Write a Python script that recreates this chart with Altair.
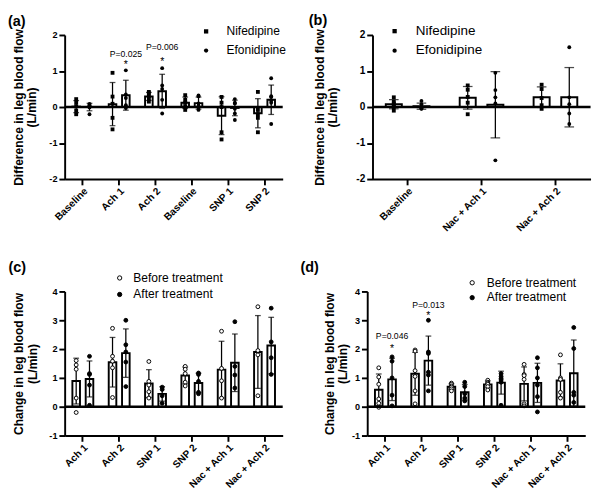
import altair as alt
import pandas as pd

FONT = "Liberation Sans, Arial, Helvetica, sans-serif"

# ---------------- Panel (a) ----------------
A_CATS = ["Baseline", "Ach 1", "Ach 2", "Baseline ", "SNP 1", "SNP 2"]
A_GROUPS = ["Nifedipine", "Efonidipine"]
A_NIF = [
    [0.22, 0.12, 0.02, -0.10, -0.20],
    [0.95, 0.29, 0.09, -0.30, -0.62],
    [0.42, 0.38, 0.30, 0.22, 0.15],
    [0.33, 0.20, 0.12, 0.02, -0.08],
    [0.28, 0.12, 0.00, -0.70, -0.90],
    [0.42, -0.08, -0.20, -0.30, -0.70],
]
A_EFO = [
    [0.09, 0.06, 0.04, 0.02, -0.01, -0.20],
    [1.02, 0.35, 0.25, 0.05, -0.03],
    [1.08, 0.60, 0.50, 0.20, -0.18],
    [0.32, 0.30, 0.10, 0.03, -0.02, -0.08],
    [0.22, 0.12, 0.10, -0.05, -0.18, -0.36],
    [0.80, 0.30, 0.28, 0.18, 0.12, -0.47],
]
A_NOTE_CATS = ["Ach 1", "Ach 2"]
A_NOTE_GRPS = ["Efonidipine", "Efonidipine"]
A_NOTE_P = ["P=0.025", "P=0.006"]
A_NOTE_PY = [1.47, 1.67]
A_NOTE_STARY = [1.24, 1.33]

# ---------------- Panel (b) ----------------
B_CATS = ["Baseline", "Nac + Ach 1", "Nac + Ach 2"]
B_GROUPS = ["Nifedipine", "Efonidipine"]
B_NIF = [
    [0.27, 0.15, 0.10, 0.05, 0.00, -0.10],
    [0.60, 0.48, 0.28, 0.12, -0.20],
    [0.62, 0.50, 0.25, 0.05, -0.05],
]
B_EFO = [
    [0.17, 0.08, 0.00, -0.02, -0.04, -0.05],
    [0.95, 0.47, 0.27, 0.10, -1.48],
    [1.66, 0.27, 0.08, -0.18, -0.47],
]

# ---------------- Panel (c) ----------------
C_CATS = ["Ach 1", "Ach 2", "SNP 1", "SNP 2", "Nac + Ach 1", "Nac + Ach 2"]
C_GROUPS = ["Before treatment", "After treatment"]
C_BEFORE = [
    [1.60, 1.45, 1.30, 0.30, -0.20],
    [2.72, 1.75, 1.58, 1.35, 0.32],
    [1.57, 0.88, 0.75, 0.52, 0.30],
    [1.40, 1.30, 1.15, 0.85, 0.72],
    [2.62, 1.33, 0.90, 0.30],
    [3.47, 1.95, 1.80, 0.38],
]
C_AFTER = [
    [1.75, 1.15, 1.12, 0.75, 0.05],
    [3.00, 2.15, 1.90, 1.55, 0.70],
    [0.68, 0.60, 0.38, 0.12],
    [1.17, 1.12, 0.88, 0.50, 0.45],
    [2.95, 1.40, 1.10, 0.65],
    [3.42, 2.25, 1.70, 1.12],
]

# ---------------- Panel (d) ----------------
D_CATS = ["Ach 1", "Ach 2", "SNP 1", "SNP 2", "Nac + Ach 1", "Nac + Ach 2"]
D_GROUPS = ["Before treatment", "After treatment"]
D_BEFORE = [
    [1.35, 1.03, 0.78, 0.27, 0.12, -0.02],
    [1.97, 1.93, 1.25, 1.05, 0.55, 0.10],
    [0.82, 0.78, 0.72, 0.68, 0.62, 0.55],
    [0.92, 0.85, 0.82, 0.78, 0.70, 0.58],
    [1.47, 1.12, 1.08, 0.95, 0.10, 0.03],
    [1.80, 1.00, 0.95, 0.50, 0.30],
]
D_AFTER = [
    [1.73, 1.58, 1.00, 0.40, 0.03],
    [3.00, 1.85, 1.90, 1.20, 1.10, 0.55],
    [0.85, 0.70, 0.45, 0.30, 0.20],
    [1.15, 1.05, 0.98, 0.93, 0.85, 0.05],
    [1.70, 1.35, 1.00, 0.75, 0.35, -0.18],
    [2.75, 2.02, 0.50, 0.40, 0.15],
]
D_NOTE_CATS = ["Ach 1", "Ach 2"]
D_NOTE_GRPS = ["After treatment", "After treatment"]
D_NOTE_P = ["P=0.046", "P=0.013"]
D_NOTE_PY = [2.44, 3.53]
D_NOTE_STARY = [2.09, 3.25]

W, H = 227, 150


def long_df(cats, groups, series):
    rows = []
    for g, vals in zip(groups, series):
        for c, pts in zip(cats, vals):
            for v in pts:
                rows.append({"cat": c, "grp": g, "v": v})
    return pd.DataFrame(rows)


def panel(letter, cats, groups, series, ydom, yvals, ytitle, tpad, ylab,
          leg, x_pad, bar_pad, cap, mode, toff, tdx, notes=None):
    df = long_df(cats, groups, series)
    base = alt.Chart(df)
    xaxis = alt.Axis(title=None, labelAngle=-45, labelExpr="trim(datum.label)",
                     labelFont=FONT, labelFontWeight="bold", labelFontSize=10.5,
                     labelColor="black", domain=True, ticks=True, domainColor="black",
                     domainWidth=2, tickColor="black", tickWidth=2, tickSize=6,
                     labelPadding=1, grid=False)
    x = alt.X("cat:N", sort=cats,
              scale=alt.Scale(domain=cats, paddingInner=x_pad[0], paddingOuter=x_pad[1]),
              axis=xaxis)
    xo = alt.XOffset("grp:N", sort=groups,
                     scale=alt.Scale(domain=groups, paddingInner=bar_pad[0], paddingOuter=bar_pad[1]))
    ys = alt.Scale(domain=ydom, nice=False)
    yaxis = alt.Axis(values=yvals, title=ytitle, titleFont=FONT, titleFontWeight="bold",
                     titleFontSize=12.5, titleColor="black", titlePadding=tpad, titleLineHeight=14,
                     labelFont=FONT, labelFontWeight="bold", labelFontSize=ylab, labelColor="black",
                     labelExpr="datum.value + ''", domain=True, ticks=True, domainColor="black",
                     domainWidth=2, tickColor="black", tickWidth=2, tickSize=6,
                     labelPadding=2, grid=False)

    def Y(field):
        return alt.Y(field, scale=ys, axis=yaxis)

    agg = base.transform_aggregate(
        m="mean(v)", s="stdev(v)", groupby=["cat", "grp"]
    ).transform_calculate(lo="datum.m - datum.s", hi="datum.m + datum.s")

    bars = agg.mark_bar(fill="white", stroke="black", strokeWidth=2).encode(
        x=x, xOffset=xo, y=Y("m:Q"))
    err = agg.mark_rule(color="black", strokeWidth=1.3).encode(
        x=x, xOffset=xo, y=Y("lo:Q"), y2="hi:Q")
    cap_hi = agg.mark_tick(color="black", thickness=1.3, size=cap, orient="horizontal").encode(
        x=x, xOffset=xo, y=Y("hi:Q"))
    cap_lo = agg.mark_tick(color="black", thickness=1.3, size=cap, orient="horizontal").encode(
        x=x, xOffset=xo, y=Y("lo:Q"))

    lg = alt.Legend(title=None, orient="none", legendX=leg["x"], legendY=leg["y"],
                    labelFont=FONT, labelFontSize=leg["fs"], labelColor="black",
                    symbolSize=leg["ss"], rowPadding=leg["rp"], labelOffset=leg["lo"],
                    padding=0, symbolStrokeColor="black", symbolStrokeWidth=1)
    if mode == "shape":
        pts = base.mark_point(filled=True, color="black", size=16, opacity=1).encode(
            x=x, xOffset=xo, y=Y("v:Q"),
            shape=alt.Shape("grp:N", sort=groups,
                            scale=alt.Scale(domain=groups, range=["square", "circle"]), legend=lg))
    else:
        pts = base.mark_point(shape="circle", size=16, stroke="black", strokeWidth=1, opacity=1).encode(
            x=x, xOffset=xo, y=Y("v:Q"),
            fill=alt.Fill("grp:N", sort=groups,
                          scale=alt.Scale(domain=groups, range=["white", "black"]), legend=lg))

    zero = alt.Chart(pd.DataFrame({"z": [0]})).mark_rule(color="black", strokeWidth=2.5).encode(
        y=Y("z:Q"))

    layers = [bars, err, cap_hi, cap_lo, pts, zero]
    if notes is not None:
        ncats, ngrps, ptxt, py, sy = notes
        ndf = pd.DataFrame({"cat": ncats, "grp": ngrps, "label": ptxt, "y": py})
        sdf = pd.DataFrame({"cat": ncats, "grp": ngrps, "label": ["*"] * len(ncats), "y": sy})
        ptext = alt.Chart(ndf).mark_text(font=FONT, fontSize=9, color="black").encode(
            x=x, xOffset=xo, y=Y("y:Q"), text="label:N")
        stext = alt.Chart(sdf).mark_text(font=FONT, fontSize=11, color="black", dy=3).encode(
            x=x, xOffset=xo, y=Y("y:Q"), text="label:N")
        layers += [ptext, stext]

    return alt.layer(*layers).properties(
        width=W, height=H,
        title=alt.TitleParams(text=letter, anchor="start", frame="bounds", font=FONT,
                              fontSize=15, fontWeight="bold", color="black", offset=toff, dx=tdx))


pa = panel("(a)", A_CATS, A_GROUPS, [A_NIF, A_EFO], [-2, 2], [-2, -1, 0, 1, 2],
           ["Difference in leg blood flow", "(L/min)"], 10.5, 9.5,
           dict(x=141, y=-10, fs=12.5, ss=20, rp=7, lo=15), (0, 0), (0.43, 0.58), 6, "shape", -3.5, -5,
           notes=(A_NOTE_CATS, A_NOTE_GRPS, A_NOTE_P, A_NOTE_PY, A_NOTE_STARY))
pb = panel("(b)", B_CATS, B_GROUPS, [B_NIF, B_EFO], [-2, 2], [-2, -1, 0, 1, 2],
           ["Difference in leg blood flow", "(L/min)"], 17, 10.5,
           dict(x=16, y=-11, fs=14, ss=20, rp=6.3, lo=15), (0.05, 0), (0.42, 0.48), 10, "shape", -4, -5)
pc = panel("(c)", C_CATS, C_GROUPS, [C_BEFORE, C_AFTER], [-1, 4], [-1, 0, 1, 2, 3, 4],
           ["Change in leg blood flow", "(L/min)"], 10, 9.5,
           dict(x=51, y=-20.3, fs=12.5, ss=20, rp=4.2, lo=8), (0, 0), (0.43, 0.58), 6, "fill", -2.8, -5)
pd_ = panel("(d)", D_CATS, D_GROUPS, [D_BEFORE, D_AFTER], [-1, 4], [-1, 0, 1, 2, 3, 4],
            ["Change in leg blood flow", "(L/min)"], 2, 9.5,
            dict(x=103, y=-15.3, fs=12.5, ss=20, rp=2.5, lo=9), (0, 0), (0.43, 0.58), 6, "fill", 2.2, -24,
            notes=(D_NOTE_CATS, D_NOTE_GRPS, D_NOTE_P, D_NOTE_PY, D_NOTE_STARY))

IND = dict(xOffset="independent", shape="independent", fill="independent")
row1 = alt.hconcat(pa, pb, spacing=22.5).resolve_scale(**IND).resolve_legend(shape="independent", fill="independent")
row2 = alt.hconcat(pc, pd_, spacing=16).resolve_scale(**IND).resolve_legend(shape="independent", fill="independent")
chart = alt.vconcat(row1, row2, spacing=27).resolve_scale(**IND).resolve_legend(
    shape="independent", fill="independent"
).properties(padding={"left": 0, "top": -4, "right": 0, "bottom": 0},
             background="white").configure_view(stroke=None)

chart.save("out.html", embed_options={"renderer": "svg", "actions": False})
